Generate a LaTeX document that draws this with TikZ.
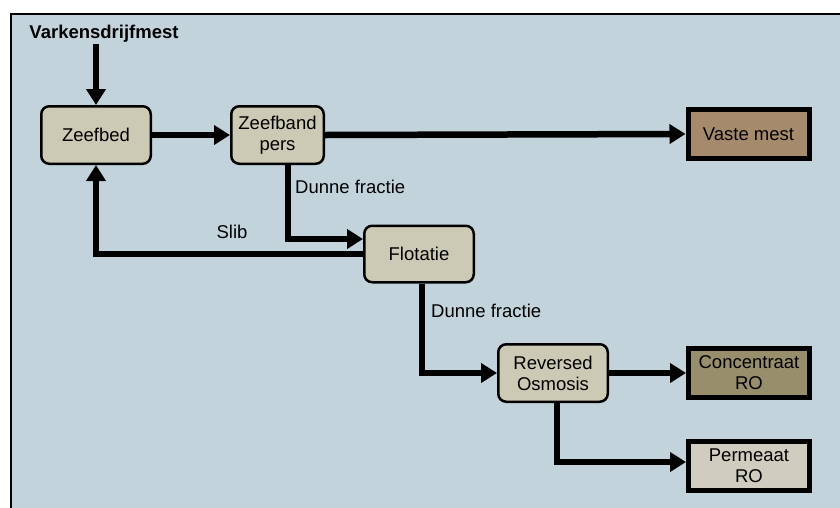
\documentclass[tikz,border=0pt]{standalone}
\usepackage{fontspec}
\setmainfont{Liberation Sans}
\usetikzlibrary{arrows.meta}

\definecolor{panel}{HTML}{C3D3DC}
\definecolor{stepfill}{HTML}{CCC9B4}
\definecolor{solidfill}{HTML}{A68A6C}
\definecolor{concfill}{HTML}{988E6C}
\definecolor{permfill}{HTML}{D0CCBF}

\tikzset{
  txt/.style={font=\fontsize{18.5}{21}\selectfont, align=center},
  procbox/.style={txt, draw=black, line width=2.5pt, fill=stepfill,
    rounded corners=8pt, inner sep=0pt},
  outbox/.style={txt, draw=black, line width=5pt, inner sep=0pt,
    minimum width=121pt, minimum height=49pt},
  flow/.style={line width=6.5pt, -{Triangle[length=16pt,width=19pt]}},
  lbl/.style={txt, inner sep=0pt}
}

\begin{document}
\begin{tikzpicture}[x=1pt, y=-1pt]
  \useasboundingbox (0,0) rectangle (840,507);

  % panel with its top and left frame
  \fill[panel] (11,14) rectangle (846,515);
  \draw[line width=2pt] (11,515) -- (11,14) -- (846,14);

  % input
  \node[txt, font=\fontsize{18.5}{21}\selectfont\bfseries, inner sep=0pt] (src) at (104,34) {Varkensdrijfmest};

  % process steps
  \node[procbox, minimum width=109.5pt, minimum height=57.5pt] (zb) at (96,135) {Zeefbed};
  \node[procbox, minimum width=92.5pt, minimum height=57.5pt] (zp) at (277.5,135) {Zeefband\\pers};
  \node[procbox, minimum width=109.5pt, minimum height=56.5pt] (fl) at (419,254) {Flotatie};
  \node[procbox, minimum width=109.5pt, minimum height=57.5pt] (ro) at (553,373) {Reversed\\Osmosis};

  % end products
  \node[outbox, fill=solidfill] (vm) at (748.5,134) {Vaste mest};
  \node[outbox, fill=concfill] (co) at (749,373) {Concentraat\\RO};
  \node[outbox, fill=permfill] (pe) at (749,466) {Permeaat\\RO};

  % connectors
  \draw[flow] (zb.north |- 0,44) -- (zb.north);
  \draw[flow] (zb.east) -- (zp.west);
  \draw[flow] (zp.east) -- (vm.west);
  \draw[flow] ([xshift=10.5pt]zp.south) |- ([yshift=15pt]fl.west);
  \draw[flow] (fl.west) -| (zb.south);
  \draw[flow] ([xshift=3pt]fl.south) |- (ro.west);
  \draw[flow] (ro.east) -- (co.west);
  \draw[flow] ([xshift=4pt]ro.south) |- ([yshift=4pt]pe.west);

  % stream labels
  \node[lbl, anchor=west] (l1) at (295,187) {Dunne fractie};
  \node[lbl] (l2) at (232,232) {Slib};
  \node[lbl, anchor=west] (l3) at (431,311) {Dunne fractie};
\end{tikzpicture}
\end{document}
